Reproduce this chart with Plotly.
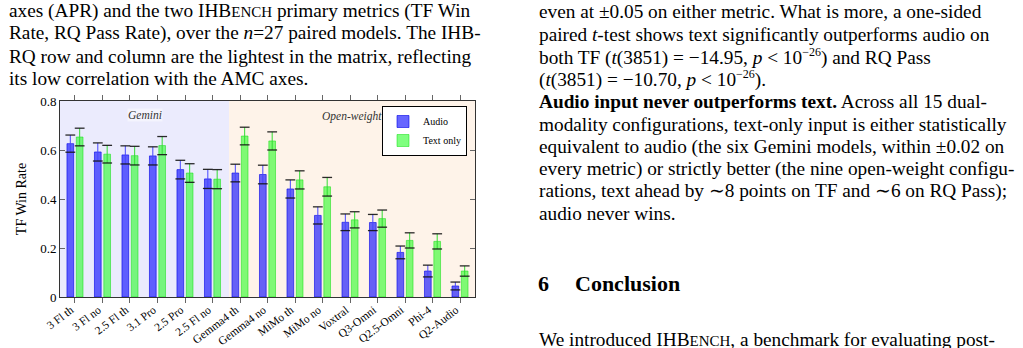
import numpy as np
import plotly.graph_objects as go

categories = ["3 Fl th", "3 Fl no", "2.5 Fl th", "3.1 Pro", "2.5 Pro", "2.5 Fl no",
              "Gemma4 th", "Gemma4 no", "MiMo th", "MiMo no", "Voxtral", "Q3-Omni",
              "Q2.5-Omni", "Phi-4", "Q2-Audio"]
audio = [0.626, 0.592, 0.580, 0.576, 0.520, 0.482, 0.506, 0.500, 0.441, 0.333,
         0.305, 0.304, 0.182, 0.106, 0.045]
audio_err = [0.035, 0.037, 0.037, 0.037, 0.038, 0.039, 0.036, 0.038, 0.037, 0.035,
             0.034, 0.033, 0.026, 0.024, 0.016]
text_only = [0.653, 0.583, 0.577, 0.618, 0.506, 0.481, 0.657, 0.637, 0.478, 0.450,
             0.315, 0.320, 0.231, 0.227, 0.106]
text_err = [0.036, 0.036, 0.038, 0.037, 0.038, 0.039, 0.036, 0.037, 0.037, 0.038,
            0.033, 0.035, 0.031, 0.031, 0.021]
y_ticks = [0, 0.2, 0.4, 0.6, 0.8]
y_ticktext = ["0", "0.2", "0.4", "0.6", "0.8"]
group_names = ["Gemini", "Open-weight"]
series_names = ["Audio", "Text only"]

W, H = 1023, 348
L, R, T, B = 60, 475, 101, 297
XMIN, XMAX = -0.545, 14.545
GEM_END = 5.6

BW = 0.244
SHIFT = 0.17
SERIF = "Liberation Serif"
BODY = 19.3

idx = np.arange(len(categories))

fig = go.Figure()

series = [
    (series_names[0], audio, audio_err, -SHIFT, "rgba(0,0,255,0.6)", "rgba(0,0,230,0.75)", "rgb(70,70,255)"),
    (series_names[1], text_only, text_err, SHIFT, "rgba(0,255,0,0.5)", "rgba(0,220,0,0.6)", "rgb(50,220,50)"),
]
for name, vals, errs, sh, fill, edge, ecol in series:
    fig.add_trace(go.Bar(
        x=idx, y=vals, name=name, width=BW, offset=sh - BW / 2,
        marker=dict(color=fill, line=dict(color=edge, width=0.8)),
    ))
for name, vals, errs, sh, fill, edge, ecol in series:
    xs = idx + sh
    v = np.array(vals)
    e = np.array(errs)
    fig.add_trace(go.Scatter(
        x=xs, y=v, mode="markers", marker=dict(size=1, color="rgba(0,0,0,0)"),
        error_y=dict(type="data", array=e, visible=True, color=ecol, thickness=1, width=0),
        showlegend=False, hoverinfo="skip",
    ))
    fig.add_trace(go.Scatter(
        x=np.concatenate([xs, xs]), y=np.concatenate([v + e, v - e]), mode="markers",
        marker=dict(symbol="line-ew", size=7, line=dict(color="rgba(20,20,20,0.9)", width=1.3)),
        showlegend=False, hoverinfo="skip",
    ))

# background regions
fig.add_shape(type="rect", xref="x", yref="y", x0=XMIN, x1=GEM_END, y0=0, y1=0.8,
              fillcolor="rgb(235,235,253)", line=dict(width=0), layer="below")
fig.add_shape(type="rect", xref="x", yref="y", x0=GEM_END, x1=XMAX, y0=0, y1=0.8,
              fillcolor="rgb(254,243,233)", line=dict(width=0), layer="below")

def pp(px, py):
    return (px - L) / (R - L), (B - py) / (B - T)

ann = []
gx, gy = pp((L + 229) / 2, 107.5)
ann.append(dict(x=(XMIN + GEM_END) / 2, y=gy, xref="x", yref="paper", text="<i>" + group_names[0] + "</i>",
                showarrow=False, font=dict(family=SERIF, size=11.5, color="#333"),
                bgcolor="rgba(255,255,255,0.45)", borderpad=0))
ann.append(dict(x=(GEM_END + XMAX) / 2, y=gy, xref="x", yref="paper", text="<i>" + group_names[1] + "</i>",
                showarrow=False, font=dict(family=SERIF, size=11.5, color="#333")))

SC = "<span style='font-size:15px'>ENCH</span>"
SUP = "<sup><span style='font-size:12px'>−26</span></sup>"
left_lines = [
    "axes (APR) and the two IHB" + SC + " primary metrics (TF Win",
    "Rate, RQ Pass Rate), over the <i>n</i>=27 paired models. The IHB-",
    "RQ row and column are the lightest in the matrix, reflecting",
    "its low correlation with the AMC axes.",
]
left_y = [11, 33.5, 56, 78.5]
right_lines = [
    "even at ±0.05 on either metric. What is more, a one-sided",
    "paired <i>t</i>-test shows text significantly outperforms audio on",
    "both TF (<i>t</i>(3851) = −14.95, <i>p</i> < 10" + SUP + ") and RQ Pass",
    "(<i>t</i>(3851) = −10.70, <i>p</i> < 10" + SUP + ").",
    "<b>Audio input never outperforms text.</b> Across all 15 dual-",
    "modality configurations, text-only input is either statistically",
    "equivalent to audio (the six Gemini models, within ±0.02 on",
    "every metric) or strictly better (the nine open-weight configu-",
    "rations, text ahead by ∼8 points on TF and ∼6 on RQ Pass);",
    "audio never wins.",
]
right_y = [11.5, 34, 56.5, 79, 101.5, 124, 146.5, 169, 191, 213.5]

for t, y in zip(left_lines, left_y):
    x0, y0 = pp(7, y)
    ann.append(dict(x=x0, y=y0, xref="paper", yref="paper", text=t, showarrow=False,
                    xanchor="left", yanchor="middle", font=dict(family=SERIF, size=BODY, color="black")))
for t, y in zip(right_lines, right_y):
    x0, y0 = pp(537, y)
    ann.append(dict(x=x0, y=y0, xref="paper", yref="paper", text=t, showarrow=False,
                    xanchor="left", yanchor="middle", font=dict(family=SERIF, size=BODY, color="black")))

x0, y0 = pp(536, 283)
ann.append(dict(x=x0, y=y0, xref="paper", yref="paper", text="<b>6</b>", showarrow=False,
                xanchor="left", yanchor="middle", font=dict(family=SERIF, size=22, color="black")))
x0, y0 = pp(573, 283)
ann.append(dict(x=x0, y=y0, xref="paper", yref="paper", text="<b>Conclusion</b>", showarrow=False,
                xanchor="left", yanchor="middle", font=dict(family=SERIF, size=22, color="black")))
x0, y0 = pp(537, 339)
ann.append(dict(x=x0, y=y0, xref="paper", yref="paper",
                text="We introduced IHB" + SC + ", a benchmark for evaluating post-",
                showarrow=False, xanchor="left", yanchor="middle",
                font=dict(family=SERIF, size=BODY, color="black")))

lx, ly = pp(467, 106)
fig.update_layout(
    width=W, height=H,
    margin=dict(l=L, r=W - R, t=T, b=H - B, pad=0, autoexpand=False),
    paper_bgcolor="white", plot_bgcolor="white",
    barmode="overlay",
    font=dict(family=SERIF, color="black"),
    showlegend=True,
    legend=dict(x=lx, y=ly, xanchor="right", yanchor="top", bgcolor="white",
                bordercolor="black", borderwidth=1, font=dict(family=SERIF, size=10),
                itemwidth=30, tracegroupgap=0),
    annotations=ann,
    xaxis=dict(range=[XMIN, XMAX], tickvals=idx, ticktext=categories, tickangle=-37,
               ticks="outside", ticklen=5, tickcolor="#666", mirror="ticks", automargin=False,
               ticklabelstandoff=-4, ticklabelshift=-4,
               showline=True, linecolor="#333", linewidth=1, showgrid=False, zeroline=False,
               tickfont=dict(family=SERIF, size=11.5, color="black")),
    yaxis=dict(range=[0, 0.8], tickvals=y_ticks, ticktext=y_ticktext, automargin=False,
               ticks="inside", ticklen=5, tickcolor="#666", mirror="ticks",
               showline=True, linecolor="#333", linewidth=1, showgrid=False, zeroline=False,
               tickfont=dict(family=SERIF, size=13, color="black"),
               title=dict(text="TF Win Rate", font=dict(family=SERIF, size=14), standoff=10)),
)

fig.write_html("out.html")
